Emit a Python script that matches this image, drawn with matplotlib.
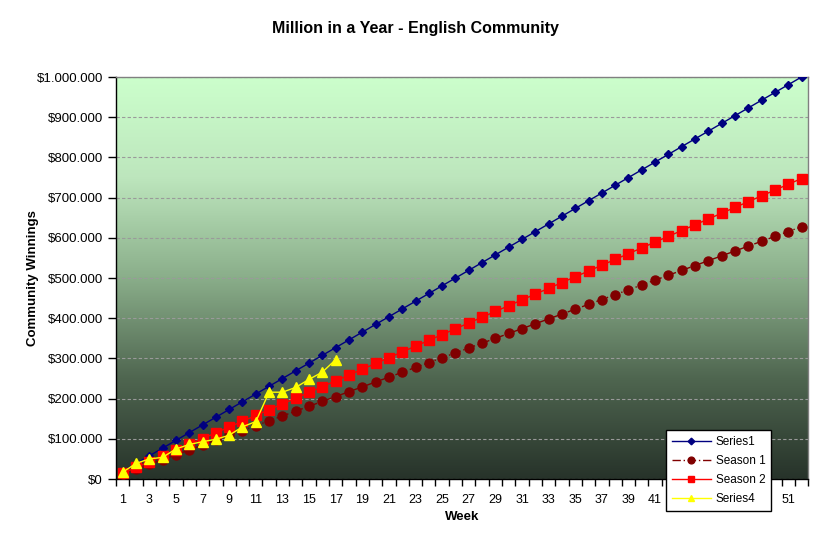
import matplotlib
matplotlib.use("Agg")
import matplotlib.pyplot as plt
import numpy as np
from matplotlib.colors import LinearSegmentedColormap
from matplotlib.ticker import FuncFormatter, MultipleLocator

plt.rcParams["font.family"] = ["Liberation Sans", "DejaVu Sans"]

weeks = list(range(1, 53))

series1 = [19231, 38462, 57692, 76923, 96154, 115385, 134615, 153846, 173077, 192308,
           211538, 230769, 250000, 269231, 288462, 307692, 326923, 346154, 365385, 384615,
           403846, 423077, 442308, 461538, 480769, 500000, 519231, 538462, 557692, 576923,
           596154, 615385, 634615, 653846, 673077, 692308, 711538, 730769, 750000, 769231,
           788462, 807692, 826923, 846154, 865385, 884615, 903846, 923077, 942308, 961538,
           980769, 1000000]

season1 = [12070, 24140, 36210, 48280, 60350, 72420, 84490, 96560, 108630, 120700,
           132770, 144840, 156910, 168980, 181050, 193120, 205190, 217260, 229330, 241400,
           253470, 265540, 277610, 289680, 301750, 313820, 325890, 337960, 350030, 362100,
           374170, 386240, 398310, 410380, 422450, 434520, 446590, 458660, 470730, 482800,
           494870, 506940, 519010, 531080, 543150, 555220, 567290, 579360, 591430, 603500,
           615570, 627640]

season2 = [14375, 28750, 43125, 57500, 71875, 86250, 100625, 115000, 129375, 143750,
           158125, 172500, 186875, 201250, 215625, 230000, 244375, 258750, 273125, 287500,
           301875, 316250, 330625, 345000, 359375, 373750, 388125, 402500, 416875, 431250,
           445625, 460000, 474375, 488750, 503125, 517500, 531875, 546250, 560625, 575000,
           589375, 603750, 618125, 632500, 646875, 661250, 675625, 690000, 704375, 718750,
           733125, 747500]

series4_weeks = list(range(1, 18))
series4 = [17000, 39000, 50000, 54000, 75000, 86000, 93000, 99000, 109000, 130000,
           143000, 216000, 216000, 228000, 248000, 266000, 297000]

# week labels shown (43-49 sit under the legend in the original)
shown_week_labels = [1, 3, 5, 7, 9, 11, 13, 15, 17, 19, 21, 23, 25, 27, 29, 31,
                     33, 35, 37, 39, 41, 51]

fig = plt.figure(figsize=(8.23, 5.45), dpi=100)
ax = fig.add_axes([0.141, 0.121, 0.841, 0.7377])

# background gradient, light green at top to dark at bottom
grad_cmap = LinearSegmentedColormap.from_list(
    "bg", ["#27332a", "#4f6650", "#8aae8a", "#bde6bd", "#ccffcc"])
grad = np.linspace(0, 1, 256).reshape(-1, 1)
ax.imshow(grad, cmap=grad_cmap, origin="lower", aspect="auto",
          extent=[0.5, 52.5, 0, 1000000], zorder=0)

ax.set_xlim(0.5, 52.5)
ax.set_ylim(0, 1000000)

ax.yaxis.set_major_locator(MultipleLocator(100000))
ax.yaxis.set_major_formatter(
    FuncFormatter(lambda v, p: "$" + f"{int(v):,}".replace(",", ".")))
ax.grid(axis="y", color="#9a9a9a", linestyle=(0, (3, 2)), linewidth=0.8, zorder=1)

ax.plot(weeks, series1, color="#000080", marker="D", markersize=4.5,
        linewidth=1, label="Series1", zorder=3)
ax.plot(weeks, season1, color="#800000", marker="o", markersize=6.5,
        linewidth=1, linestyle=(0, (6, 2, 1, 2)), label="Season 1", zorder=3)
ax.plot(weeks, season2, color="#ff0000", marker="s", markersize=6.5,
        linewidth=1, label="Season 2", zorder=3)
ax.plot(series4_weeks, series4, color="#ffff00", marker="^", markersize=6.5,
        linewidth=1, label="Series4", zorder=4)

# category style ticks between weeks, labels every other week
ax.set_xticks(np.arange(0.5, 53, 1))
ax.set_xticklabels([])
ax.set_xticks(shown_week_labels, minor=True)
ax.set_xticklabels([str(w) for w in shown_week_labels], minor=True, fontsize=9)
ax.tick_params(axis="x", which="major", direction="out", length=5, width=1)
ax.tick_params(axis="x", which="minor", length=0, pad=11)
ax.tick_params(axis="y", direction="out", length=6, width=1, labelsize=9.5)

for side in ["top", "right"]:
    ax.spines[side].set_color("#808080")
    ax.spines[side].set_linewidth(1)
ax.spines["left"].set_linewidth(1)
ax.spines["bottom"].set_linewidth(1)

ax.set_xlabel("Week", fontsize=9.5, fontweight="bold")
ax.set_ylabel("Community Winnings", fontsize=9.5, fontweight="bold")
ax.xaxis.set_label_coords(0.5, -0.08)
ax.yaxis.set_label_coords(-0.112, 0.5)

fig.text(0.505, 0.948, "Million in a Year - English Community",
         ha="center", va="center", fontsize=11.5, fontweight="bold")

leg = ax.legend(loc="upper left", bbox_to_anchor=(666 / 823, 1 - 430 / 545),
                bbox_transform=fig.transFigure, fontsize=8.5, frameon=True,
                fancybox=False, edgecolor="black", framealpha=1,
                handlelength=3.3, handletextpad=0.4, labelspacing=0.6,
                borderpad=0.5, borderaxespad=0, markerscale=0.75)
leg.get_frame().set_linewidth(1)
leg.set_zorder(10)

fig.savefig("out.png", dpi=100, facecolor="white")
